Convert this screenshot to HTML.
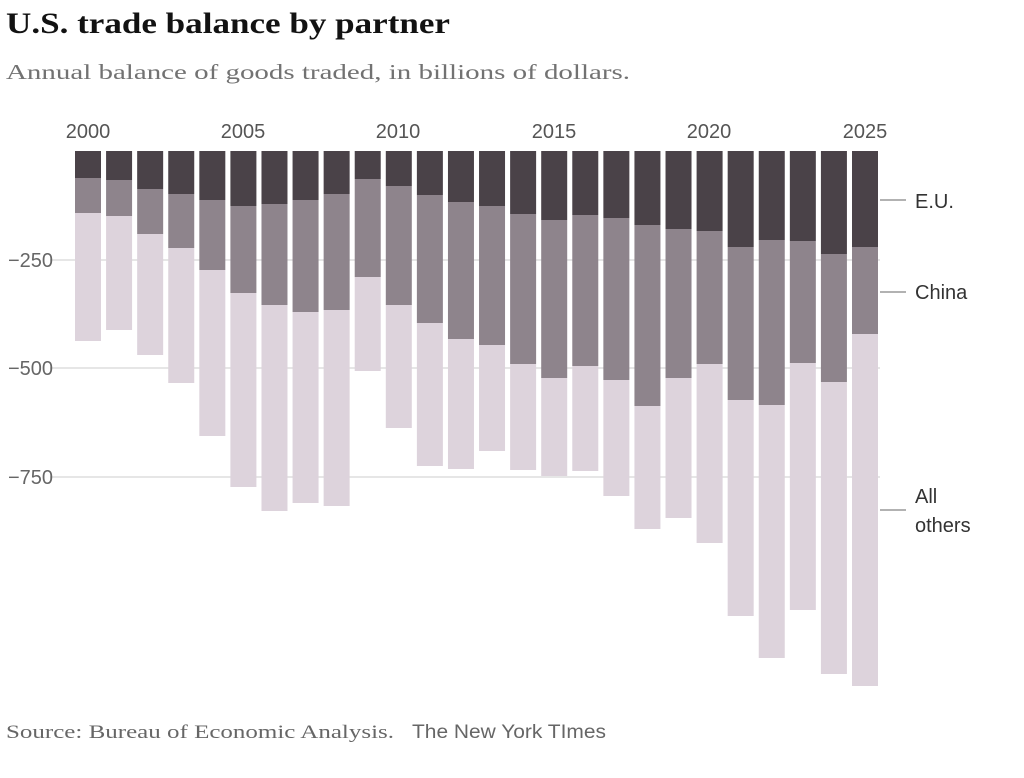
<!DOCTYPE html>
<html><head><meta charset="utf-8"><style>
body{margin:0;background:#fff;width:1024px;height:773px;overflow:hidden;font-family:"Liberation Serif",serif;}
</style></head><body>
<svg width="1024" height="773" xmlns="http://www.w3.org/2000/svg">
<text x="6" y="33" font-family="Liberation Serif,serif" font-weight="bold" font-size="30" fill="#121212" textLength="444" lengthAdjust="spacingAndGlyphs">U.S. trade balance by partner</text>
<text x="6" y="79" font-family="Liberation Serif,serif" font-size="21" fill="#727272" textLength="624" lengthAdjust="spacingAndGlyphs">Annual balance of goods traded, in billions of dollars.</text>
<g stroke="#dddddd" stroke-width="1.5">
<line x1="50" x2="880" y1="260" y2="260"/><line x1="50" x2="880" y1="368" y2="368"/><line x1="50" x2="880" y1="477" y2="477"/>
</g>
<g font-family="Liberation Sans,sans-serif" font-size="20" fill="#666">
<text x="8" y="267">−250</text><text x="8" y="375">−500</text><text x="8" y="484">−750</text>
</g>
<g font-family="Liberation Sans,sans-serif" font-size="20" fill="#555" text-anchor="middle">
<text x="88" y="138">2000</text><text x="243" y="138">2005</text><text x="398" y="138">2010</text><text x="554" y="138">2015</text><text x="709" y="138">2020</text><text x="865" y="138">2025</text>
</g>
<g id="bars"></g>
<g stroke="#999" stroke-width="1.5"><line x1="880" x2="906" y1="200" y2="200"/><line x1="880" x2="906" y1="292" y2="292"/><line x1="880" x2="906" y1="510" y2="510"/></g>
<g font-family="Liberation Sans,sans-serif" font-size="20" fill="#333">
<text x="915" y="208">E.U.</text><text x="915" y="299">China</text><text x="915" y="503">All</text><text x="915" y="532">others</text>
</g>
<text x="6" y="738" font-family="Liberation Serif,serif" font-size="19" fill="#666" textLength="388" lengthAdjust="spacingAndGlyphs">Source: Bureau of Economic Analysis.</text>
<text x="412" y="738" font-family="Liberation Sans,sans-serif" font-size="19" fill="#666" textLength="194" lengthAdjust="spacingAndGlyphs">The New York TImes</text>
</svg>
<script>
var eu=[178,180,189,194,200,206,204,200,194,179,186,195,202,206,214,220,215,218,225,229,231,247,240,241,254,247];
var ch=[213,216,234,248,270,293,305,312,310,277,305,323,339,345,364,378,366,380,406,378,364,400,405,363,382,334];
var tot=[341,330,355,383,436,487,511,503,506,371,428,466,469,451,470,476,471,496,529,518,543,616,658,610,674,686];
var g=document.getElementById('bars'),s='';
for(var i=0;i<26;i++){var x=75+i*31.08;
s+='<rect x="'+x+'" y="151" width="26" height="'+(eu[i]-151)+'" fill="#4a4248"/>';
s+='<rect x="'+x+'" y="'+eu[i]+'" width="26" height="'+(ch[i]-eu[i])+'" fill="#8e848c"/>';
s+='<rect x="'+x+'" y="'+ch[i]+'" width="26" height="'+(tot[i]-ch[i])+'" fill="#ddd3dc"/>';}
g.innerHTML=s;
</script>
</body></html>
